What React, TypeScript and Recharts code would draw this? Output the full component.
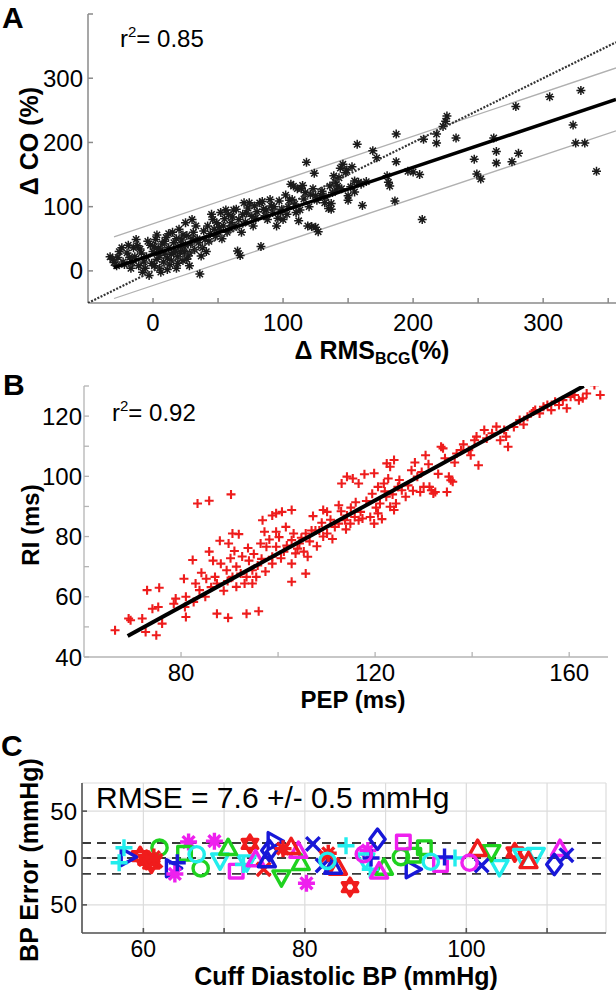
import React from 'react';
import { ScatterChart, Scatter, XAxis, YAxis, CartesianGrid, ReferenceLine } from 'recharts';

const FONT = '"Liberation Sans", Arial, Helvetica, sans-serif';

// ---- panel A: change in CO vs change in RMS of the BCG ----
const ptsA: [number, number][] = [
  [-33, 22], [-31, 18], [-30, 13], [-28, 8], [-27, 21], [-26, 30], [-24, 36], [-23, 14], [-22, 10],
  [-20, 28], [-19, 40], [-18, 21], [-17, 4], [-16, 13], [-15, 36], [-14, 22], [-13, 49], [-12, 39],
  [-11, 8], [-10, 34], [-9, 28], [-8, -2], [-7, 14], [-6, 4], [-5, 22], [-4, 46], [-3, -7], [-2, 40],
  [-1, 12], [0, 30], [1, 8], [1, 38], [2, 49], [3, 18], [3, 56], [4, 34], [5, 24], [5, 4], [6, -2],
  [6, 32], [7, 42], [8, 14], [9, 28], [9, 46], [10, 52], [11, 20], [11, 2], [12, 36], [12, 58], [13, 10],
  [14, 26], [14, 16], [15, 60], [16, 44], [16, 28], [17, 31], [18, 4], [18, 50], [19, 22], [19, 12],
  [20, 65], [21, 38], [21, 30], [22, 48], [23, 16], [23, 56], [24, 30], [25, 75], [25, 40], [26, 55],
  [26, 18], [27, 23], [28, 8], [28, 28], [29, 42], [30, 80], [30, 50], [31, 60], [32, 33], [33, 70],
  [34, 50], [35, 44], [36, -5], [37, 23], [38, 36], [39, 62], [40, 49], [41, 30], [42, 70], [43, 46],
  [44, 58], [45, 88], [46, 80], [47, 65], [48, 54], [49, 75], [50, 60], [51, 68], [52, 91], [53, 50],
  [54, 70], [55, 81], [56, 95], [57, 60], [58, 88], [59, 66], [60, 75], [61, 84], [62, 95], [63, 70],
  [64, 96], [65, 31], [66, 80], [67, 24], [68, 60], [69, 88], [70, 106], [71, 76], [72, 90], [73, 98],
  [74, 106], [76, 85], [77, 70], [78, 101], [79, 82], [80, 92], [82, 106], [83, 38], [84, 108], [85, 96],
  [86, 86], [87, 95], [88, 80], [90, 111], [91, 101], [92, 91], [93, 100], [95, 70], [96, 82], [97, 109],
  [98, 91], [99, 96], [100, 80], [102, 118], [103, 88], [104, 100], [105, 110], [106, 135], [107, 111],
  [108, 132], [109, 104], [110, 91], [111, 128], [112, 78], [113, 95], [114, 128], [115, 133], [116, 112],
  [117, 122], [118, 169], [119, 70], [120, 100], [121, 119], [122, 69], [123, 128], [124, 152], [125, 68],
  [125, 117], [126, 110], [127, 61], [129, 117], [130, 124], [132, 106], [133, 115], [135, 97], [136, 132],
  [137, 105], [137, 96], [138, 122], [139, 148], [140, 138], [141, 126], [142, 132], [143, 145], [144, 160],
  [145, 128], [146, 166], [148, 153], [149, 157], [150, 117], [150, 110], [152, 131], [153, 162],
  [155, 123], [155, 140], [157, 197], [158, 138], [160, 135], [161, 102], [164, 139], [169, 187],
  [172, 176], [180, 148], [181, 138], [182, 132], [187, 213], [187, 170], [186, 109], [196, 155],
  [200, 154], [205, 150], [207, 80], [208, 205], [218, 213], [218, 199], [226, 241], [225, 233],
  [223, 225], [233, 207], [247, 174], [249, 151], [252, 143], [262, 207], [264, 186], [264, 168],
  [276, 170], [279, 256], [281, 183], [305, 271], [323, 227], [325, 199], [329, 281], [332, 199], [341, 155],
];
const fitA: [number, number][] = [[-30, 5], [356, 267]];
const upperA: [number, number][] = [[-30, 53], [356, 316]];
const lowerA: [number, number][] = [[-30, -43], [356, 218]];
const identityA: [number, number][] = [[-50, -50], [356, 356]];
const xTicksA = [0, 50, 100, 150, 200, 250, 300, 350];
const xLabelsA = [0, 100, 200, 300];
const yTicksA = [0, 100, 200, 300, 400];
const yLabelsA = [0, 100, 200, 300];

// ---- panel B: RI vs PEP ----
const ptsB: [number, number][] = [
  [66.4, 48.9], [69.2, 52.8], [69.6, 52.2], [72.0, 52.8], [72.7, 48.3], [74.9, 47.2], [73.0, 62.2],
  [75.5, 63.0], [74.1, 56.0], [75.3, 56.6], [76.1, 51.1], [78.5, 57.7], [78.9, 59.4], [80.6, 66.0],
  [81.0, 60.0], [80.8, 56.6], [81.0, 53.3], [82.4, 72.2], [83.4, 91.0], [85.8, 91.9], [83.0, 64.4],
  [83.8, 62.2], [85.0, 60.0], [82.6, 58.3], [85.8, 75.0], [86.6, 72.0], [87.0, 66.6], [87.4, 64.4],
  [87.4, 54.4], [88.0, 78.6], [89.8, 77.7], [90.6, 81.0], [91.9, 80.8], [90.3, 94.0], [89.7, 53.0],
  [93.5, 54.4], [96.0, 55.2], [88.2, 71.0], [89.4, 68.8], [90.6, 66.6], [91.4, 70.0], [92.3, 67.7],
  [93.1, 64.4], [91.4, 63.3], [94.0, 72.0], [94.7, 68.8], [95.5, 66.6], [93.5, 66.6], [94.7, 64.4],
  [96.8, 85.4], [97.2, 81.6], [96.4, 77.7], [97.6, 76.6], [98.8, 87.0], [99.6, 87.7], [100.8, 88.2],
  [102.8, 88.8], [99.6, 81.6], [99.6, 76.6], [98.8, 73.3], [98.8, 71.0], [101.2, 75.0], [102.8, 78.8],
  [102.8, 71.0], [102.8, 65.0], [103.2, 81.0], [104.4, 77.7], [105.3, 75.0], [106.1, 73.3], [105.7, 67.7],
  [104.0, 76.0], [105.7, 81.0], [106.9, 82.0], [107.7, 82.0], [109.3, 88.8], [110.1, 88.2], [108.5, 82.0],
  [109.3, 80.0], [110.1, 81.0], [111.7, 83.2], [112.5, 84.3], [112.5, 90.4], [114.2, 99.9], [115.4, 99.3],
  [116.6, 97.6], [113.1, 97.6], [114.9, 84.3], [115.8, 86.5], [114.2, 87.0], [113.8, 85.4], [116.6, 85.4],
  [117.4, 86.0], [119.0, 86.5], [117.8, 100.7], [119.8, 101.0], [120.6, 96.5], [121.8, 97.6],
  [122.7, 99.3], [121.0, 91.0], [122.3, 93.2], [123.1, 89.9], [123.9, 88.8], [120.6, 87.7], [119.8, 84.3],
  [123.1, 103.2], [123.9, 105.4], [122.4, 104.3], [124.7, 96.5], [125.5, 95.4], [126.3, 93.2],
  [124.3, 91.0], [127.5, 102.0], [128.7, 99.9], [129.3, 94.8], [130.0, 96.5], [130.4, 107.0],
  [131.2, 96.5], [131.6, 95.4], [132.0, 94.3], [132.4, 94.8], [133.6, 109.8], [134.0, 109.3],
  [134.8, 94.8], [135.2, 99.9], [135.6, 98.7], [136.0, 98.2], [136.8, 107.6], [137.7, 108.7],
  [139.3, 108.7], [139.7, 107.0], [140.5, 112.0], [140.9, 113.2], [141.3, 103.7], [142.5, 115.4],
  [144.1, 114.3], [145.8, 112.0], [147.4, 109.8], [145.0, 116.5], [146.6, 115.4], [147.0, 113.2],
  [149.8, 118.7], [151.4, 119.8], [152.6, 121.5], [153.0, 122.0], [153.9, 120.9], [154.7, 123.1],
  [155.5, 123.7], [156.3, 122.0], [157.1, 124.8], [157.9, 123.7], [158.7, 125.3], [159.5, 122.6],
  [160.3, 126.4], [161.1, 127.0], [162.0, 125.3], [162.8, 125.9], [163.6, 127.5], [165.2, 130.3],
  [166.4, 127.0],
  [84.2, 68.0], [85.2, 66.0], [86.2, 63.2], [88.8, 62.0], [89.6, 65.2], [90.2, 72.8], [91.0, 75.2],
  [92.6, 73.4], [93.8, 76.2], [95.0, 74.2], [95.8, 70.4], [96.6, 72.6], [97.4, 68.4], [98.2, 79.0],
  [100.2, 79.8], [100.6, 72.8], [101.6, 83.2], [101.8, 77.0], [103.6, 74.4], [104.8, 79.6], [106.5, 78.4],
  [107.2, 86.8], [108.0, 76.8], [109.0, 84.6], [110.8, 85.6], [111.2, 79.2], [113.0, 88.4], [114.0, 82.4],
  [115.0, 89.6], [116.0, 91.4], [117.0, 88.2], [118.2, 91.8], [119.4, 94.2], [120.2, 89.6], [121.4, 85.8],
  [122.0, 95.0], [123.6, 94.0], [125.0, 98.8], [126.8, 97.0], [127.8, 95.2], [128.2, 104.6], [129.6, 101.4],
  [131.0, 104.0], [133.0, 100.8], [134.4, 106.0], [136.4, 104.6], [138.2, 110.6], [143.0, 112.6],
  [148.6, 116.4], [150.6, 117.2],
];
const fitB: [number, number][] = [[69, 47], [163, 130]];
const xTicksB = [80, 100, 120, 140, 160];
const xLabelsB = [80, 120, 160];
const yTicksB = [40, 50, 60, 70, 80, 90, 100, 110, 120, 130];
const yLabelsB = [40, 60, 80, 100, 120];

// ---- panel C: BP error vs cuff diastolic BP, one series per subject ----
const RED = '#f01c1c';
const GREEN = '#1fd21f';
const BLUE = '#1818d8';
const CYAN = '#22eded';
const MAGENTA = '#ee20ee';

const sub01: [number, number][] = [[59.6, 2], [60.4, -2], [61.0, -6], [73.2, 15], [85.6, -31], [106.0, 6]];
const sub02: [number, number][] = [[58.1, 1], [63.7, -11], [76.3, 18], [93.4, -12]];
const sub03: [number, number][] = [[62.0, 11], [67.1, -11], [91.9, 1]];
const sub04: [number, number][] = [[63.9, -17], [65.6, 17], [68.8, 18], [80.2, -27], [87.8, 8]];
const sub05: [number, number][] = [[65.1, 5], [94.8, 11], [93.5, 3]];
const sub06: [number, number][] = [[69.5, -3], [72.8, -5], [87.5, -3], [104.1, -10], [106.9, 2], [108.6, 3]];
const sub07: [number, number][] = [[70.5, 11], [79.5, -5], [89.8, -10]];
const sub08: [number, number][] = [[71.5, -14], [92.2, 17], [96.8, -7]];
const sub09: [number, number][] = [[57.6, 11], [57.0, -5], [72.4, -7], [85.1, 13], [88.1, -12], [98.6, 0]];
const sub10: [number, number][] = [[73.9, -1], [79.2, 8], [89.2, -14], [111.6, 10]];
const sub11: [number, number][] = [[74.9, -12], [82.6, 1], [61.5, -3]];
const sub12: [number, number][] = [[75.6, 8], [89.0, 20], [110.9, -7]];
const sub13: [number, number][] = [[77.1, -21], [103.1, 6]];
const sub14: [number, number][] = [[81.0, 15], [82.2, -8], [101.9, -8], [112.4, 3]];
const sub15: [number, number][] = [[78.3, 12], [84.1, -10], [101.4, 10], [107.7, -3]];
const sub16: [number, number][] = [[64.2, -5], [88.2, 0], [97.3, 1]];
const sub17: [number, number][] = [[100.4, -5], [87.3, 4]];
const sub18: [number, number][] = [[75.3, -2], [83.5, -9]];
const sub19: [number, number][] = [[61.3, 1], [77.3, 10], [82.9, 5]];
const sub20: [number, number][] = [[66.6, 4], [82.8, -3], [95.6, -4]];

const subjectsC = [
  { sym: 'h', color: RED, pts: sub01 }, { sym: '>', color: BLUE, pts: sub02 },
  { sym: 'o', color: GREEN, pts: sub03 }, { sym: '*', color: MAGENTA, pts: sub04 },
  { sym: 's', color: GREEN, pts: sub05 }, { sym: 'v', color: CYAN, pts: sub06 },
  { sym: '^', color: GREEN, pts: sub07 }, { sym: 's', color: MAGENTA, pts: sub08 },
  { sym: '+', color: CYAN, pts: sub09 }, { sym: '^', color: MAGENTA, pts: sub10 },
  { sym: 'x', color: RED, pts: sub11 }, { sym: 'd', color: BLUE, pts: sub12 },
  { sym: 'v', color: GREEN, pts: sub13 }, { sym: 'x', color: BLUE, pts: sub14 },
  { sym: '^', color: RED, pts: sub15 }, { sym: '+', color: BLUE, pts: sub16 },
  { sym: 'o', color: MAGENTA, pts: sub17 }, { sym: '^', color: BLUE, pts: sub18 },
  { sym: '*', color: RED, pts: sub19 }, { sym: 'o', color: CYAN, pts: sub20 },
];
const limitsC = [16, 0, -17];
const xTicksC = [60, 70, 80, 90, 100, 110];
const xLabelsC = [60, 80, 100];
const yTicksC = [-50, 0, 50];

const toXY = (a: [number, number][]) => a.map(([x, y]) => ({ x, y }));

function Marker({ cx, cy, sym, color, r = 8.5, sw = 3.4 }: any) {
  const s = { fill: 'none', stroke: color, strokeWidth: sw, strokeLinejoin: 'round' as const };
  const pts = (arr: number[][]) => arr.map(([dx, dy]) => `${cx + dx},${cy + dy}`).join(' ');
  switch (sym) {
    case 'o':
      return <circle cx={cx} cy={cy} r={r * 0.9} {...s} />;
    case 's':
      return <rect x={cx - r * 0.8} y={cy - r * 0.8} width={r * 1.6} height={r * 1.6} {...s} />;
    case 'd':
      return <polygon points={pts([[0, -r * 1.2], [r * 0.9, 0], [0, r * 1.2], [-r * 0.9, 0]])} {...s} />;
    case '^':
      return <polygon points={pts([[0, -r], [r, r * 0.8], [-r, r * 0.8]])} {...s} />;
    case 'v':
      return <polygon points={pts([[0, r], [r, -r * 0.8], [-r, -r * 0.8]])} {...s} />;
    case '>':
      return <polygon points={pts([[r, 0], [-r * 0.8, -r], [-r * 0.8, r]])} {...s} />;
    case '<':
      return <polygon points={pts([[-r, 0], [r * 0.8, -r], [r * 0.8, r]])} {...s} />;
    case '+':
      return <path d={`M${cx - r},${cy}H${cx + r}M${cx},${cy - r}V${cy + r}`} {...s} />;
    case 'x': {
      const k = r * 0.8;
      return <path d={`M${cx - k},${cy - k}L${cx + k},${cy + k}M${cx - k},${cy + k}L${cx + k},${cy - k}`} {...s} />;
    }
    case '*': {
      const k = r * 0.7;
      return (
        <path
          d={`M${cx - r},${cy}H${cx + r}M${cx},${cy - r}V${cy + r}M${cx - k},${cy - k}L${cx + k},${cy + k}M${cx - k},${cy + k}L${cx + k},${cy - k}`}
          {...s}
        />
      );
    }
    case 'h': {
      const a = r * 1.05;
      const up = [[0, -a], [a * 0.866, a * 0.5], [-a * 0.866, a * 0.5]];
      const dn = [[0, a], [a * 0.866, -a * 0.5], [-a * 0.866, -a * 0.5]];
      return (
        <g>
          <polygon points={pts(up)} {...s} />
          <polygon points={pts(dn)} {...s} />
        </g>
      );
    }
    default:
      return <circle cx={cx} cy={cy} r={r} {...s} />;
  }
}

const Asterisk = (p: any) => <Marker cx={p.cx} cy={p.cy} sym="*" color="#1a1a1a" r={4.5} sw={1.5} />;
const RedPlus = (p: any) => <Marker cx={p.cx} cy={p.cy} sym="+" color="#ee1c1c" r={4.5} sw={2.1} />;
const NoDot = () => <g />;

const tickFont = { fontSize: 24, fill: '#000', fontFamily: FONT };
const tickFontC = { fontSize: 23, fill: '#000', fontFamily: FONT };

function PanelA() {
  const axisA = { stroke: '#8a8a8a', strokeWidth: 1.5 };
  return (
    <ScatterChart width={616} height={340} margin={{ top: 14, right: 0, bottom: 0, left: 0 }}>
      <XAxis
        type="number" dataKey="x" domain={[-50, 356]} allowDataOverflow ticks={xTicksA} interval={0}
        tickFormatter={(v: number) => (xLabelsA.includes(v) ? String(v) : '')}
        height={37} tickSize={-5} tickMargin={16} axisLine={axisA} tickLine={axisA} tick={tickFont}
      />
      <YAxis
        type="number" dataKey="y" domain={[-50, 400]} allowDataOverflow ticks={yTicksA} interval={0}
        tickFormatter={(v: number) => (yLabelsA.includes(v) ? String(v) : '')}
        width={88} tickSize={-5} tickMargin={10} axisLine={axisA} tickLine={axisA} tick={tickFont}
      />
      <Scatter data={toXY(upperA)} line={{ stroke: '#b0b0b0', strokeWidth: 1.3 }} shape={NoDot} isAnimationActive={false} />
      <Scatter data={toXY(lowerA)} line={{ stroke: '#b0b0b0', strokeWidth: 1.3 }} shape={NoDot} isAnimationActive={false} />
      <Scatter data={toXY(ptsA)} shape={Asterisk} isAnimationActive={false} />
      <Scatter data={toXY(identityA)} line={{ stroke: '#333', strokeWidth: 2.2, strokeDasharray: '2 1.5' }} shape={NoDot} isAnimationActive={false} />
      <Scatter data={toXY(fitA)} line={{ stroke: '#000', strokeWidth: 3.5 }} shape={NoDot} isAnimationActive={false} />
    </ScatterChart>
  );
}

function PanelB() {
  const axisB = { stroke: '#b4b4b4', strokeWidth: 1.3 };
  return (
    <ScatterChart width={616} height={360} margin={{ top: 46, right: 8, bottom: 0, left: 0 }}>
      <XAxis
        type="number" dataKey="x" domain={[60, 168]} allowDataOverflow ticks={xTicksB} interval={0}
        tickFormatter={(v: number) => (xLabelsB.includes(v) ? String(v) : '')}
        height={43} tickSize={-5} tickMargin={12} axisLine={axisB} tickLine={axisB} tick={tickFont}
      />
      <YAxis
        type="number" dataKey="y" domain={[40, 130]} allowDataOverflow ticks={yTicksB} interval={0}
        tickFormatter={(v: number) => (yLabelsB.includes(v) ? String(v) : '')}
        width={84} tickSize={-5} tickMargin={7} axisLine={axisB} tickLine={axisB} tick={tickFont}
      />
      <Scatter data={toXY(ptsB)} shape={RedPlus} isAnimationActive={false} />
      <Scatter data={toXY(fitB)} line={{ stroke: '#000', strokeWidth: 4 }} shape={NoDot} isAnimationActive={false} />
    </ScatterChart>
  );
}

function PanelC() {
  const boxC = { stroke: '#555', strokeWidth: 1.6 };
  const dom: [number, number] = [52.4, 117.3];
  return (
    <ScatterChart width={616} height={293} margin={{ top: 83, right: 10, bottom: 0, left: 0 }}>
      <CartesianGrid stroke="#dcdcdc" strokeWidth={1.2} />
      <XAxis
        type="number" dataKey="x" domain={dom} allowDataOverflow ticks={xTicksC} interval={0}
        tickFormatter={(v: number) => (xLabelsC.includes(v) ? String(v) : '')}
        height={60} tickSize={-5} tickMargin={13} axisLine={boxC} tickLine={boxC} tick={tickFontC}
      />
      <XAxis
        xAxisId="top" orientation="top" type="number" dataKey="x" domain={dom} allowDataOverflow
        ticks={xTicksC} interval={0} tickFormatter={() => ''} height={0} tickSize={-5}
        axisLine={boxC} tickLine={boxC} tick={tickFontC}
      />
      <YAxis
        type="number" dataKey="y" domain={[-80, 80]} allowDataOverflow ticks={yTicksC} interval={0}
        tickFormatter={(v: number) => String(Math.abs(v))}
        width={82} tickSize={-5} tickMargin={10} axisLine={boxC} tickLine={boxC} tick={tickFont}
      />
      <YAxis
        yAxisId="r" orientation="right" type="number" dataKey="y" domain={[-80, 80]} allowDataOverflow
        ticks={yTicksC} interval={0} tickFormatter={() => ''} width={0} tickSize={-5}
        axisLine={boxC} tickLine={boxC} tick={tickFont}
      />
      {limitsC.map((v) => (
        <ReferenceLine key={v} y={v} stroke="#3a3a3a" strokeWidth={1.8} strokeDasharray="9 6" />
      ))}
      {subjectsC.map((s, i) => (
        <Scatter
          key={i}
          data={toXY(s.pts)}
          shape={(p: any) => <Marker cx={p.cx} cy={p.cy} sym={s.sym} color={s.color} />}
          isAnimationActive={false}
        />
      ))}
    </ScatterChart>
  );
}

function Overlay() {
  return (
    <svg
      width={616} height={993}
      style={{ position: 'absolute', left: 0, top: 0, pointerEvents: 'none' }}
      fontFamily={FONT} fill="#000"
    >
      <text x={2} y={28} fontSize={30} fontWeight="bold">A</text>
      <text x={3} y={395} fontSize={30} fontWeight="bold">B</text>
      <text x={1} y={756} fontSize={30} fontWeight="bold">C</text>

      <text x={120} y={47} fontSize={24}>
        r<tspan dy={-10} fontSize={15}>2</tspan><tspan dy={10}>= 0.85</tspan>
      </text>
      <text x={112} y={421} fontSize={24}>
        r<tspan dy={-10} fontSize={15}>2</tspan><tspan dy={10}>= 0.92</tspan>
      </text>
      <text x={96} y={808} fontSize={30}>RMSE = 7.6 +/- 0.5 mmHg</text>

      <text transform="translate(29,141) rotate(-90)" textAnchor="middle" dominantBaseline="central" fontSize={25} fontWeight="bold">
        Δ CO (%)
      </text>
      <text x={372} y={359} textAnchor="middle" fontSize={25} fontWeight="bold">
        Δ RMS<tspan fontSize={16} dy={5}>BCG</tspan><tspan dy={-5}>(%)</tspan>
      </text>

      <text transform="translate(30,525) rotate(-90)" textAnchor="middle" dominantBaseline="central" fontSize={24} fontWeight="bold">
        RI (ms)
      </text>
      <text x={353} y={708} textAnchor="middle" fontSize={24} fontWeight="bold">PEP (ms)</text>

      <text transform="translate(29,860) rotate(-90)" textAnchor="middle" dominantBaseline="central" fontSize={25} fontWeight="bold">
        BP Error (mmHg)
      </text>
      <text x={346} y={985} textAnchor="middle" fontSize={25} fontWeight="bold">Cuff Diastolic BP (mmHg)</text>
    </svg>
  );
}

export default function App() {
  return (
    <div style={{ position: 'absolute', left: 0, top: 0, width: 616, height: 993, overflow: 'hidden', background: '#fff', fontFamily: FONT }}>
      <div style={{ position: 'absolute', left: 0, top: 0 }}><PanelA /></div>
      <div style={{ position: 'absolute', left: 0, top: 340 }}><PanelB /></div>
      <div style={{ position: 'absolute', left: 0, top: 700 }}><PanelC /></div>
      <Overlay />
    </div>
  );
}
